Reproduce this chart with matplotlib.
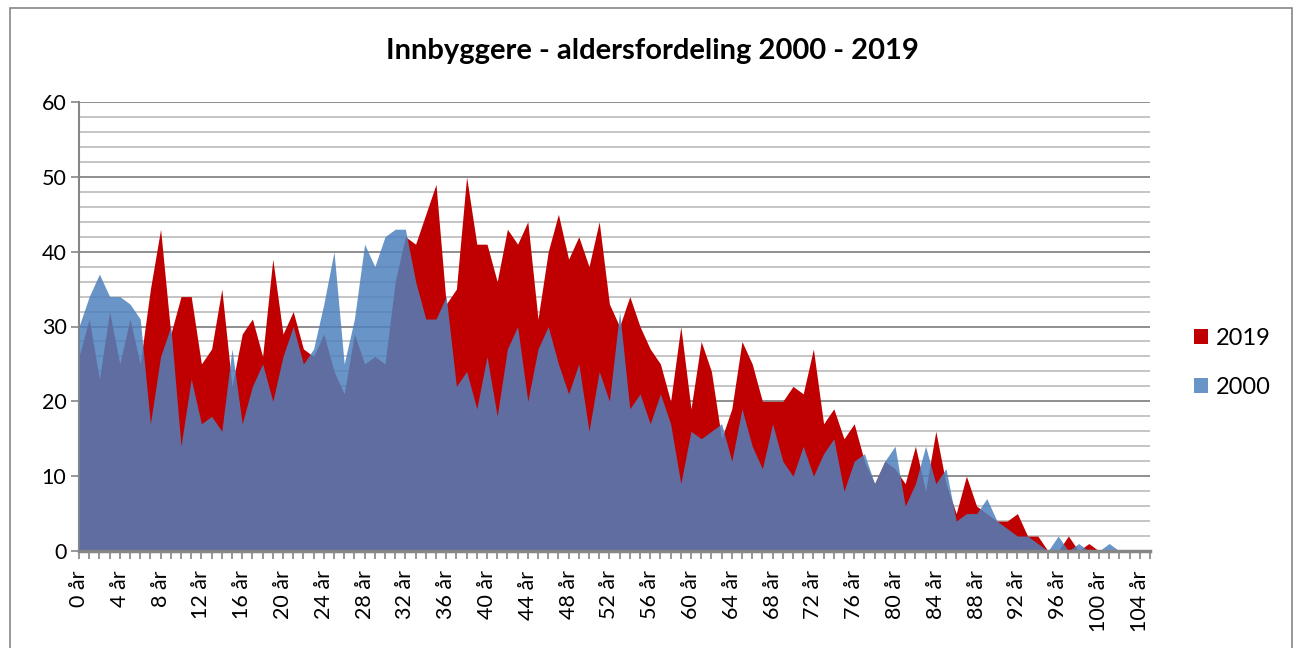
import matplotlib
matplotlib.use("Agg")
import matplotlib.pyplot as plt
from matplotlib.patches import Patch, Rectangle
from matplotlib.ticker import MultipleLocator

plt.rcParams["font.family"] = ["Lato", "DejaVu Sans"]

# Innbyggere per alder (0-105 år)
ages = list(range(106))
pop_2019 = [26, 31, 23, 32, 25, 31, 25, 35, 43, 29,
            34, 34, 25, 27, 35, 22, 29, 31, 26, 39,
            29, 32, 27, 26, 29, 24, 21, 29, 25, 26,
            25, 36, 42, 41, 45, 49, 33, 35, 50, 41,
            41, 36, 43, 41, 44, 31, 40, 45, 39, 42,
            38, 44, 33, 30, 34, 30, 27, 25, 20, 30,
            19, 28, 24, 15, 19, 28, 25, 20, 20, 20,
            22, 21, 27, 17, 19, 15, 17, 12, 9, 12,
            11, 9, 14, 8, 16, 9, 5, 10, 6, 5,
            4, 4, 5, 2, 2, 0, 0, 2, 0, 1,
            0, 0, 0, 0, 0, 0]
pop_2000 = [30, 34, 37, 34, 34, 33, 31, 17, 26, 30,
            14, 23, 17, 18, 16, 27, 17, 22, 25, 20,
            26, 30, 25, 27, 33, 40, 25, 31, 41, 38,
            42, 43, 43, 36, 31, 31, 34, 22, 24, 19,
            26, 18, 27, 30, 20, 27, 30, 25, 21, 25,
            16, 24, 20, 32, 19, 21, 17, 21, 17, 9,
            16, 15, 16, 17, 12, 19, 14, 11, 17, 12,
            10, 14, 10, 13, 15, 8, 12, 13, 9, 12,
            14, 6, 9, 14, 9, 11, 4, 5, 5, 7,
            4, 3, 2, 2, 1, 0, 2, 0, 1, 0,
            0, 1, 0, 0, 0, 0]
tick_ages = list(range(0, 105, 4))
tick_labels = [f"{a} år" for a in tick_ages]

red = "#C00000"
blue = "#4F81BD"
grid_minor = "#C0C0C0"
grid_major = "#868686"

fig = plt.figure(figsize=(13, 6.48), dpi=100)
ax = fig.add_axes([79 / 1300, 97 / 648, 1071 / 1300, 449 / 648])

ax.fill_between(ages, 0, pop_2019, color=red, lw=0, zorder=2, label="2019")
ax.fill_between(ages, 0, pop_2000, color=blue, alpha=0.85, lw=0, zorder=3, label="2000")

ax.set_xlim(0, 105)
ax.set_ylim(0, 60)

# gridlines
ax.yaxis.set_major_locator(MultipleLocator(10))
ax.yaxis.set_minor_locator(MultipleLocator(2))
ax.grid(which="minor", axis="y", color=grid_minor, lw=1.3, zorder=0)
ax.grid(which="major", axis="y", color=grid_major, lw=1.3, zorder=0)
ax.set_axisbelow(True)

ax.set_xticks(tick_ages)
ax.set_xticklabels(tick_labels, rotation=90, fontsize=15.5)
ax.xaxis.set_minor_locator(MultipleLocator(1))
ax.tick_params(axis="x", which="both", length=6, width=1.2, color=grid_major, pad=8)
ax.tick_params(axis="y", which="major", length=6, width=1.2, color=grid_major,
               labelsize=15.5, pad=3)
ax.tick_params(axis="y", which="minor", length=0)

for side in ["top", "right"]:
    ax.spines[side].set_visible(False)
ax.spines["left"].set_color(grid_major)
ax.spines["left"].set_linewidth(1.5)
ax.spines["bottom"].set_color(grid_major)
ax.spines["bottom"].set_linewidth(2.5)
ax.spines["bottom"].set_zorder(4)

fig.text(652 / 1300, 1 - 51 / 648, "Innbyggere - aldersfordeling 2000 - 2019",
         ha="center", va="center", fontsize=21, fontweight="bold")

handles = [Patch(facecolor=red, edgecolor="none"),
           Patch(facecolor=blue, alpha=0.85, edgecolor="none")]
fig.legend(handles, ["2019", "2000"], loc="center left",
           bbox_to_anchor=(1173 / 1300, 1 - 363 / 648), frameon=False,
           fontsize=17, handlelength=0.6, handleheight=0.6,
           handletextpad=0.3, labelspacing=1.2)

# chart border
fig.patches.append(Rectangle((10 / 1300, -0.1), 1282 / 1300, 1 - 8 / 648 + 0.1,
                             transform=fig.transFigure, fill=False,
                             edgecolor="#868686", lw=1.2))

fig.savefig("out.png", dpi=100)
